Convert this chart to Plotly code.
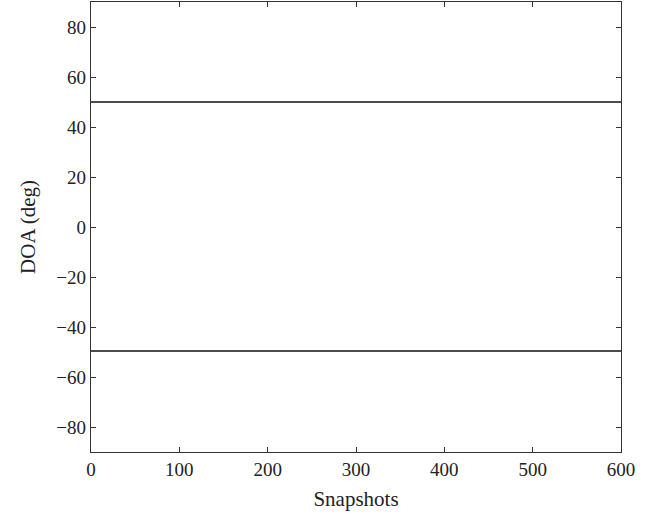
import plotly.graph_objects as go

snapshots = [0, 600]
doa_source1 = [50, 50]
doa_source2 = [-49.6, -49.6]
x_ticks = [0, 100, 200, 300, 400, 500, 600]
y_ticks = [-80, -60, -40, -20, 0, 20, 40, 60, 80]

fig = go.Figure()
for ys in (doa_source1, doa_source2):
    fig.add_trace(go.Scatter(x=snapshots, y=ys, mode="lines",
                             line=dict(color="#111111", width=1.3),
                             showlegend=False))

family = "Liberation Serif, DejaVu Serif, serif"
tick_font = dict(family=family, size=19, color="#222222")
title_font = dict(family=family, size=21, color="#222222")
axis_common = dict(showline=True, linecolor="#333333", linewidth=1.3, mirror="ticks",
                   ticks="inside", ticklen=5, tickcolor="#333333", tickwidth=1.3,
                   showgrid=False, zeroline=False, tickfont=tick_font)
fig.update_xaxes(range=[0, 600], tickvals=x_ticks,
                 title=dict(text="Snapshots", font=title_font, standoff=12),
                 **axis_common)
fig.update_yaxes(range=[-90, 90], tickvals=y_ticks,
                 title=dict(text="DOA (deg)", font=title_font, standoff=14),
                 **axis_common)
fig.update_layout(width=661, height=518, margin=dict(l=91, r=40, t=2, b=66),
                  paper_bgcolor="white", plot_bgcolor="white", font=tick_font)
fig.write_html("out.html")
